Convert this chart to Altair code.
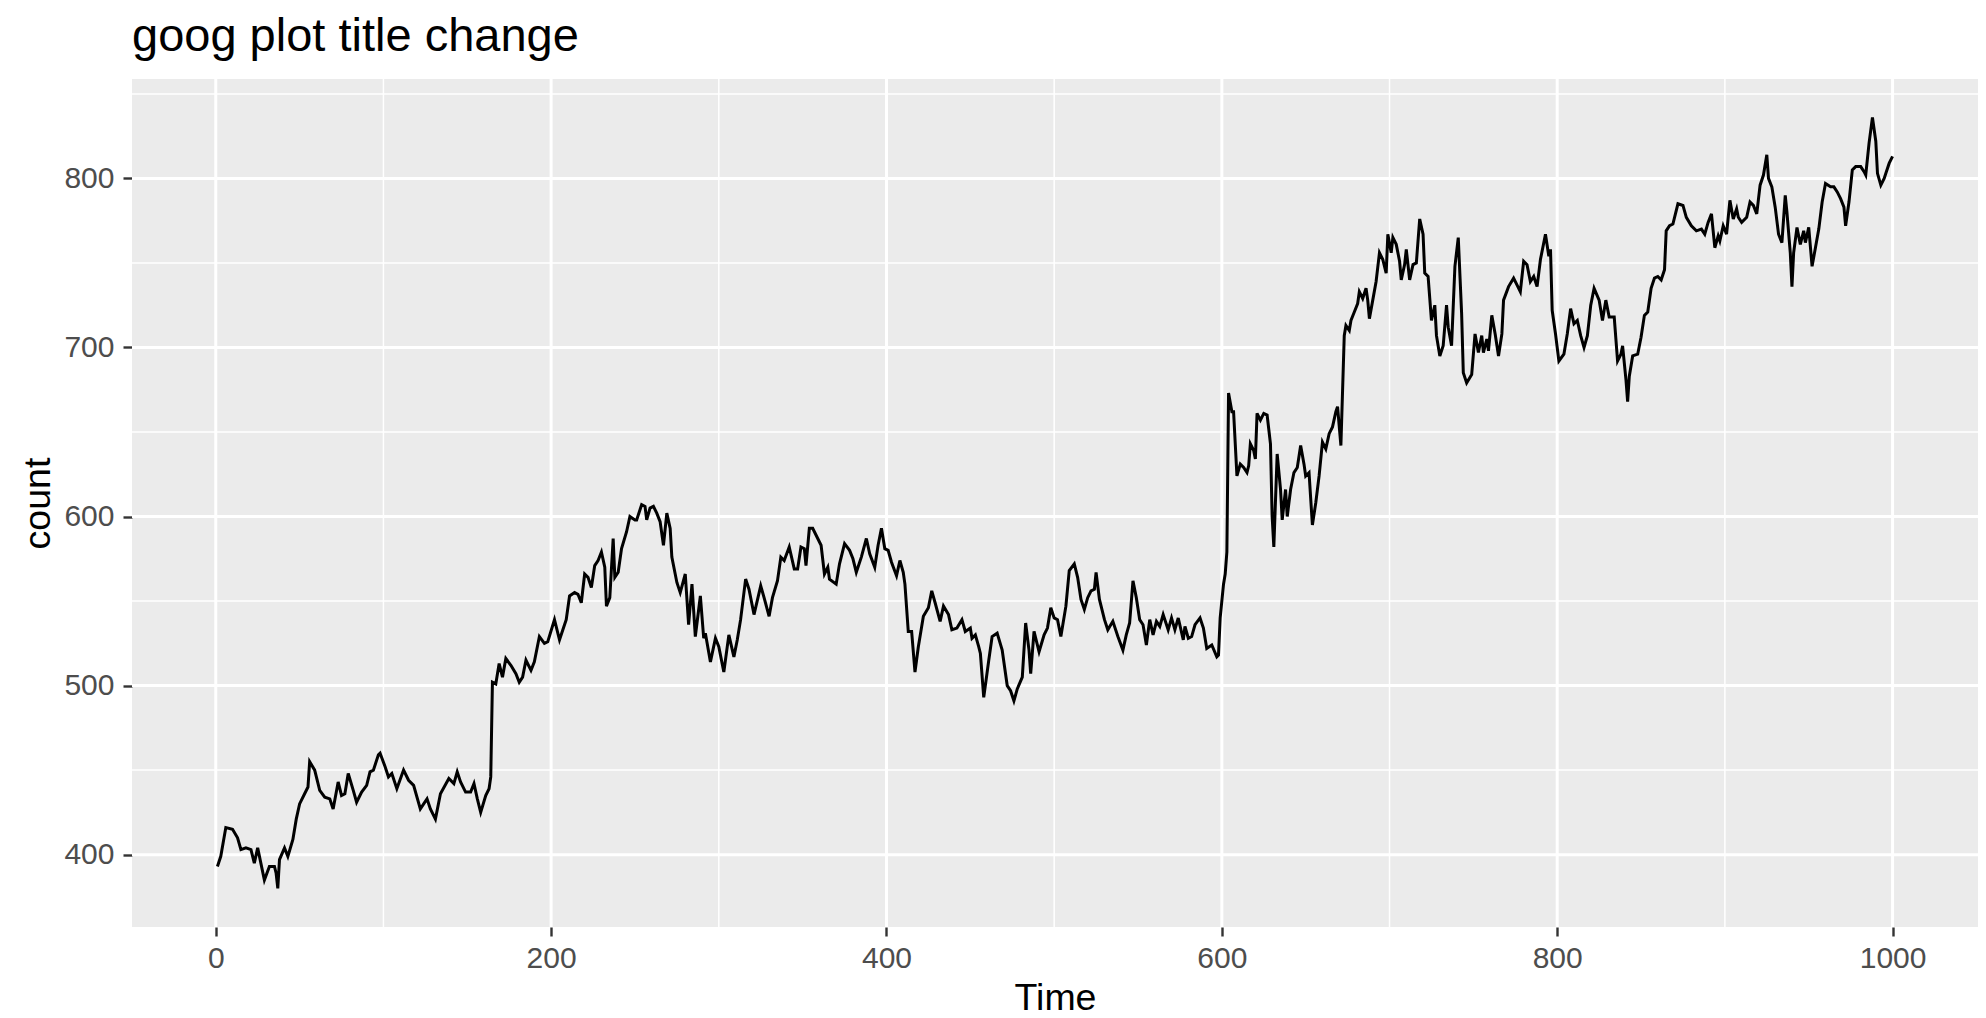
import altair as alt
import pandas as pd

# Time index and price values
time = [1, 3, 6, 10, 13, 15, 18, 21, 23, 25, 29, 32, 35, 36, 37, 38, 41, 43, 46, 48,
        50, 53, 55, 56, 59, 62, 65, 68, 70, 73, 75, 77, 79, 82, 84, 87, 90, 92, 94, 97,
        98, 101, 103, 105, 108, 112, 115, 118, 122, 124, 126, 128, 131, 134, 139, 142, 144, 146, 149, 152,
        154, 156, 158, 161, 163, 164, 165, 167, 169, 171, 173, 176, 179, 181, 183, 185, 188, 190, 193, 196,
        198, 202, 205, 207, 209, 211, 214, 216, 218, 220, 222, 224, 226, 228, 230, 232, 233, 235, 237, 238,
        240, 242, 245, 247, 250, 251, 254, 256, 257, 259, 261, 263, 265, 267, 269, 271, 272, 275, 277, 280,
        282, 284, 286, 289, 291, 292, 295, 298, 300, 303, 306, 309, 311, 313, 316, 318, 321, 325, 327, 330,
        332, 335, 337, 339, 342, 345, 347, 349, 351, 352, 354, 356, 359, 361, 363, 365, 366, 370, 372, 375,
        378, 380, 382, 385, 388, 390, 393, 395, 397, 399, 401, 403, 406, 408, 410, 411, 413, 415, 417, 419,
        422, 425, 427, 429, 432, 434, 437, 439, 442, 445, 447, 450, 451, 453, 455, 456, 458, 461, 463, 466,
        469, 472, 474, 476, 478, 481, 483, 485, 486, 488, 491, 494, 496, 498, 500, 502, 504, 507, 509, 512,
        514, 516, 518, 520, 522, 524, 525, 527, 528, 530, 532, 535, 538, 541, 543, 545, 547, 549, 551, 553,
        555, 557, 559, 561, 563, 565, 568, 570, 572, 574, 577, 578, 580, 582, 584, 587, 589, 591, 594, 597,
        598, 599, 601, 602, 603, 604, 606, 607, 609, 611, 613, 615, 616, 617, 619, 620, 621, 623, 625, 627,
        629, 630, 631, 633, 635, 636, 638, 639, 641, 643, 645, 647, 649, 650, 652, 654, 656, 658, 660, 662,
        664, 666, 668, 669, 671, 673, 674, 676, 677, 679, 681, 682, 684, 686, 687, 688, 690, 692, 694, 696,
        698, 699, 701, 702, 704, 706, 707, 709, 710, 712, 714, 716, 718, 720, 721, 723, 725, 727, 728, 730,
        732, 734, 735, 737, 739, 741, 743, 744, 746, 749, 751, 753, 755, 756, 758, 759, 761, 763, 765, 767,
        768, 771, 774, 776, 778, 780, 782, 784, 786, 788, 790, 793, 795, 796, 797, 799, 801, 804, 806, 808,
        810, 812, 814, 816, 818, 820, 822, 825, 827, 829, 831, 834, 836, 838, 839, 841, 842, 843, 845, 848,
        850, 852, 854, 856, 858, 860, 862, 864, 865, 867, 869, 872, 875, 877, 880, 883, 886, 888, 890, 892,
        893, 894, 896, 897, 899, 901, 903, 905, 907, 908, 910, 913, 915, 917, 919, 921, 923, 925, 926, 928,
        930, 932, 934, 936, 937, 939, 940, 941, 943, 945, 947, 948, 950, 952, 954, 956, 958, 960, 963, 965,
        967, 969, 971, 972, 974, 976, 978, 981, 983, 984, 986, 988, 990, 991, 993, 995, 996, 998, 1000]

price = [393, 399, 416, 415, 410, 403, 404, 403, 395, 404, 385, 393, 393, 389, 380, 397, 404, 399, 409, 421,
         430, 436, 440, 455, 450, 438, 434, 433, 427, 443, 435, 436, 448, 438, 431, 437, 441, 449, 450, 459,
         460, 452, 446, 448, 439, 450, 444, 441, 427, 430, 433, 427, 421, 436, 445, 442, 449, 443, 437, 437,
         442, 433, 425, 435, 439, 446, 502, 501, 513, 505, 516, 512, 507, 502, 505, 515, 509, 514, 529, 525,
         526, 539, 527, 533, 539, 553, 555, 554, 549, 566, 564, 558, 571, 574, 579, 570, 547, 552, 587, 564,
         567, 581, 591, 600, 598, 598, 607, 606, 598, 605, 606, 602, 597, 583, 602, 593, 576, 561, 555, 566,
         536, 560, 529, 553, 528, 531, 514, 528, 523, 508, 530, 517, 527, 539, 563, 557, 542, 559, 552, 541,
         552, 562, 576, 574, 582, 569, 569, 582, 581, 571, 593, 593, 587, 583, 566, 570, 563, 560, 572, 584,
         580, 575, 567, 576, 587, 578, 570, 583, 593, 581, 580, 573, 565, 574, 567, 560, 532, 532, 508, 523,
         541, 546, 556, 549, 538, 547, 542, 533, 534, 539, 532, 534, 528, 530, 523, 519, 493, 515, 529, 531,
         521, 500, 497, 491, 498, 505, 537, 521, 507, 532, 520, 530, 534, 546, 540, 539, 529, 547, 568, 572,
         564, 551, 545, 552, 556, 557, 567, 551, 547, 539, 533, 538, 529, 521, 530, 537, 562, 552, 539, 536,
         524, 539, 530, 538, 535, 542, 533, 540, 533, 540, 527, 535, 528, 529, 536, 540, 534, 522, 524, 517,
         518, 540, 560, 566, 579, 673, 662, 662, 624, 631, 629, 626, 630, 643, 639, 634, 661, 657, 661, 660,
         643, 600, 582, 637, 616, 598, 616, 600, 616, 626, 629, 642, 631, 624, 626, 595, 608, 624, 644, 640,
         649, 653, 662, 665, 642, 707, 713, 710, 716, 721, 726, 733, 729, 735, 728, 717, 728, 739, 756, 752,
         744, 767, 756, 765, 761, 751, 740, 749, 758, 740, 749, 750, 776, 767, 744, 742, 716, 725, 707, 695,
         701, 725, 712, 701, 748, 765, 720, 685, 679, 684, 708, 697, 707, 697, 705, 698, 719, 708, 695, 708,
         728, 736, 741, 737, 733, 751, 749, 739, 742, 736, 752, 767, 754, 758, 722, 708, 692, 696, 708, 723,
         714, 716, 707, 700, 707, 725, 735, 728, 716, 728, 718, 718, 692, 696, 701, 681, 668, 683, 695, 696,
         706, 719, 721, 735, 741, 742, 740, 746, 769, 772, 773, 785, 784, 777, 772, 769, 770, 767, 774, 779,
         769, 759, 766, 763, 772, 767, 787, 776, 782, 777, 774, 777, 786, 784, 779, 796, 802, 814, 800, 795,
         783, 767, 762, 790, 780, 756, 736, 756, 771, 761, 769, 762, 771, 748, 759, 770, 786, 797, 795, 795,
         792, 788, 783, 772, 786, 805, 807, 807, 804, 802, 821, 836, 822, 803, 796, 800, 803, 809, 813]

x_major = [0, 200, 400, 600, 800, 1000]
x_minor = [100, 300, 500, 700, 900]
y_major = [400, 500, 600, 700, 800]
y_minor = [450, 550, 650, 750, 850]

FONT = "Liberation Sans"
W, H = 1846, 848

df = pd.DataFrame({"Time": time, "count": price})

xs = alt.Scale(domain=[-49.95, 1050.95], nice=False, zero=False)
ys = alt.Scale(domain=[357.2, 858.8], nice=False, zero=False)

x_axis = alt.Axis(
    values=x_major, format="d", grid=False, domain=False,
    tickColor="#333333", tickSize=9, tickWidth=2.4,
    labelColor="#4D4D4D", labelFontSize=30, labelFont=FONT,
    labelPadding=31, labelBaseline="alphabetic", labelFlush=False,
    labelOverlap=False,
    titleFont=FONT, titleFontSize=37.5, titleColor="black",
    titleFontWeight="normal", titleX=W / 2, titleY=82,
    titleBaseline="alphabetic", titleAlign="center",
)
y_axis = alt.Axis(
    values=y_major, format="d", grid=False, domain=False,
    tickColor="#333333", tickSize=9, tickWidth=2.4,
    labelColor="#4D4D4D", labelFontSize=30, labelFont=FONT,
    labelPadding=9, labelFlush=False, labelOverlap=False,
    titleFont=FONT, titleFontSize=37.5, titleColor="black",
    titleFontWeight="normal", titleAngle=270, titleX=-83, titleY=H / 2,
    titleBaseline="alphabetic", titleAlign="center",
)


def vrules(vals, w):
    return alt.Chart(pd.DataFrame({"Time": vals})).mark_rule(
        color="white", strokeWidth=w
    ).encode(x=alt.X("Time:Q", scale=xs, axis=x_axis, title="Time"))


def hrules(vals, w):
    return alt.Chart(pd.DataFrame({"count": vals})).mark_rule(
        color="white", strokeWidth=w
    ).encode(y=alt.Y("count:Q", scale=ys, axis=y_axis, title="count"))


line = alt.Chart(df).mark_line(color="black", strokeWidth=3).encode(
    x=alt.X("Time:Q", scale=xs, title="Time", axis=x_axis),
    y=alt.Y("count:Q", scale=ys, title="count", axis=y_axis),
)

chart = alt.layer(
    vrules(x_minor, 1.5), hrules(y_minor, 1.5),
    vrules(x_major, 3), hrules(y_major, 3),
    line,
).properties(
    width=W,
    height=H,
    autosize=alt.AutoSizeParams(type="none"),
    padding={"left": 124, "top": 71, "right": 0, "bottom": 92},
    title=alt.TitleParams(
        text="goog plot title change", anchor="start", frame="group",
        font=FONT, fontSize=47, fontWeight="normal", color="black",
        baseline="alphabetic", offset=29, dy=49,
    ),
).configure_view(fill="#EBEBEB", strokeWidth=0)

chart.save("out.html", embed_options={"renderer": "svg", "actions": False})
